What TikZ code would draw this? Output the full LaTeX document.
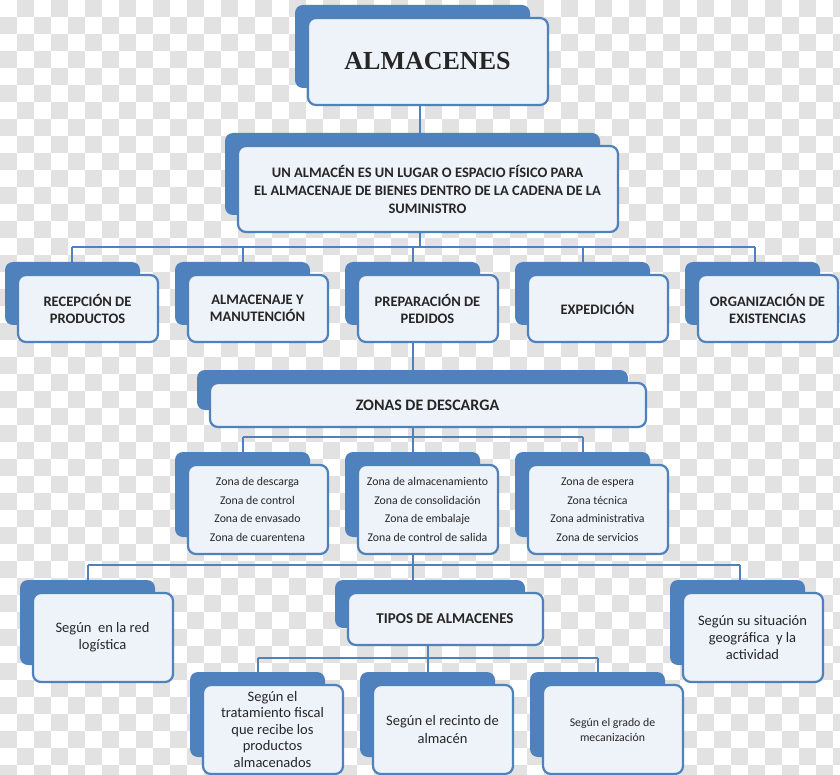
\documentclass[tikz,border=0pt]{standalone}
\usepackage{fontspec}
\setmainfont{Carlito}
\newfontfamily\titlefont{Liberation Serif}
\definecolor{bl}{HTML}{4F81BD}
\definecolor{fr}{HTML}{EEF3FA}
\definecolor{chk}{HTML}{E2E2E2}
\newcommand\bx[7]{%
  \fill[bl,rounded corners=8pt] (#2,#3) rectangle (#4,#5);
  \path[fill=fr,draw=bl,line width=2.2pt,rounded corners=8pt] ({#2+13},{#3+13}) rectangle ({#4+18},{#5+17});
  \node[align=center,text=black!85,font=#7] (#1) at ({(#2+#4)/2+15},{(#3+#5)/2+15}) {#6};}
\begin{document}
\begin{tikzpicture}[x=1pt,y=-1pt,conn/.style={draw=bl,line width=2.2pt}]
\useasboundingbox (0,0) rectangle (840,775);
\fill[white] (0,0) rectangle (840,775);
\foreach \i in {0,...,49}{\foreach \j in {0,...,45}{%
  \pgfmathtruncatemacro\p{mod(\i+\j,2)}%
  \ifnum\p=1 \fill[chk] ({\i*17},{\j*17}) rectangle ++(17,17);\fi}}
% connectors
\coordinate (a1) at (420,105); \coordinate (a2) at (420,247);
\coordinate (h1) at (72,247); \coordinate (h2) at (755,247);
\draw[conn] (a1) -- (a2);
\draw[conn] (h1) -- (h2);
\foreach \x in {72,243,413,583,755}{\draw[conn] (\x,247) -- (\x,265);}
\coordinate (b1) at (413,342); \coordinate (b2) at (413,372);
\draw[conn] (b1) -- (b2);
\coordinate (c1) at (243,437); \coordinate (c2) at (583,437);
\draw[conn] (c1) -- (c2);
\draw[conn] (413,425) -- (413,455);
\foreach \x in {243,583}{\draw[conn] (\x,437) -- (\x,455);}
\coordinate (d1) at (88,565); \coordinate (d2) at (740,565);
\draw[conn] (d1) -- (d2);
\draw[conn] (413,553) -- (413,583);
\foreach \x in {88,740}{\draw[conn] (\x,565) -- (\x,583);}
\coordinate (e1) at (258,658); \coordinate (e2) at (598,658);
\draw[conn] (e1) -- (e2);
\draw[conn] (428,643) -- (428,675);
\foreach \x in {258,598}{\draw[conn] (\x,658) -- (\x,675);}
% boxes
\bx{alm}{295}{5}{530}{88}{ALMACENES}{\titlefont\bfseries\fontsize{26}{28}\selectfont}
\bx{def}{225}{133}{600}{215}{UN ALMACÉN ES UN LUGAR O ESPACIO FÍSICO PARA\\ EL ALMACENAJE DE BIENES DENTRO DE LA CADENA DE LA\\ SUMINISTRO}{\fontsize{14.5}{18}\selectfont\bfseries}
\bx{rec}{5}{262}{140}{325}{RECEPCIÓN DE\\PRODUCTOS}{\fontsize{14.5}{17}\selectfont\bfseries}
\bx{alj}{175}{262}{310}{325}{ALMACENAJE Y\\MANUTENCIÓN}{\fontsize{14.5}{17}\selectfont\bfseries}
\bx{pre}{345}{262}{480}{325}{PREPARACIÓN DE\\PEDIDOS}{\fontsize{14.5}{17}\selectfont\bfseries}
\bx{exp}{515}{262}{650}{325}{EXPEDICIÓN}{\fontsize{14.5}{17}\selectfont\bfseries}
\bx{org}{685}{262}{820}{325}{ORGANIZACIÓN DE\\EXISTENCIAS}{\fontsize{14.5}{17}\selectfont\bfseries}
\bx{zon}{197}{370}{628}{410}{ZONAS DE DESCARGA}{\fontsize{16}{18}\selectfont\bfseries}
\bx{z1}{175}{452}{310}{537}{Zona de descarga\\Zona de control\\Zona de envasado\\Zona de cuarentena}{\fontsize{11.8}{18.5}\selectfont}
\bx{z2}{345}{452}{480}{537}{Zona de almacenamiento\\Zona de consolidación\\Zona de embalaje\\Zona de control de salida}{\fontsize{11.8}{18.5}\selectfont}
\bx{z3}{515}{452}{650}{537}{Zona de espera\\Zona técnica\\Zona administrativa\\Zona de servicios}{\fontsize{11.8}{18.5}\selectfont}
\bx{red}{20}{580}{155}{665}{Según\ \ en la red\\logística}{\fontsize{14.5}{17}\selectfont}
\bx{tip}{335}{580}{525}{628}{TIPOS DE ALMACENES}{\fontsize{15}{17}\selectfont\bfseries}
\bx{sit}{670}{580}{805}{665}{Según su situación\\geográfica\ \ y la\\actividad}{\fontsize{14.5}{17}\selectfont}
\bx{fis}{190}{672}{325}{757}{Según el\\tratamiento fiscal\\que recibe los\\productos\\almacenados}{\fontsize{14.5}{16.5}\selectfont}
\bx{rct}{360}{672}{495}{757}{Según el recinto de\\almacén}{\fontsize{14.5}{18}\selectfont}
\bx{mec}{530}{672}{665}{757}{Según el grado de\\mecanización}{\fontsize{11.8}{15}\selectfont}
\end{tikzpicture}
\end{document}
